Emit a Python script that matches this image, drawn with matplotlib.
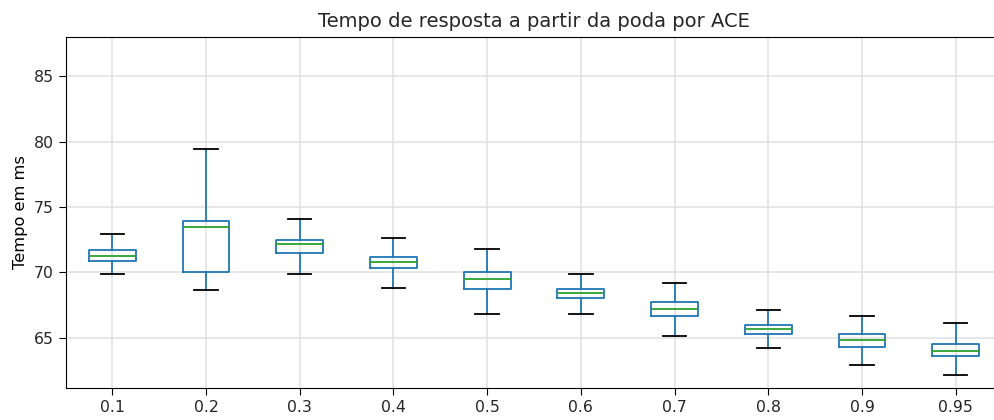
import numpy as np
import matplotlib
matplotlib.use('Agg')
import matplotlib.pyplot as plt

# Pruning thresholds (x categories)
labels = ['0.1', '0.2', '0.3', '0.4', '0.5', '0.6', '0.7', '0.8', '0.9', '0.95']

# Box statistics (ms)
whislo = [69.9, 68.66, 69.9, 68.8, 66.8, 66.8, 65.15, 64.2, 62.9, 62.1]
q1 = [70.85, 70.0, 71.45, 70.3, 68.75, 68.0, 66.65, 65.3, 64.3, 63.6]
med = [71.27, 73.5, 72.14, 70.75, 69.5, 68.4, 67.2, 65.65, 64.8, 64.0]
q3 = [71.7, 73.95, 72.5, 71.15, 70.0, 68.7, 67.7, 66.0, 65.3, 64.5]
whishi = [72.95, 79.44, 74.08, 72.6, 71.75, 69.9, 69.2, 67.1, 66.65, 66.1]

stats = []
for i in range(len(labels)):
    stats.append({'label': labels[i], 'whislo': whislo[i], 'q1': q1[i],
                  'med': med[i], 'q3': q3[i], 'whishi': whishi[i], 'fliers': []})

plt.rcParams['text.color'] = '#262626'
plt.rcParams['xtick.labelcolor'] = '#262626'
plt.rcParams['ytick.labelcolor'] = '#262626'

fig = plt.figure(figsize=(9.94, 4.2), dpi=100)
ax = fig.add_axes([65.5 / 994, 1 - 388 / 420, 937 / 994, (388 - 36.7) / 420])

lw = 1.3
ax.bxp(stats, positions=range(1, len(labels) + 1), widths=0.5,
       boxprops=dict(color='C0', linewidth=lw), whiskerprops=dict(color='C0', linewidth=lw),
       capprops=dict(color='k', linewidth=lw), medianprops=dict(color='C2', linewidth=lw),
       showfliers=False)

ax.grid(True, color='#e0e0e0', linewidth=1.1)
ax.set_axisbelow(True)
ax.spines['right'].set_visible(False)
ax.set_xlim(0.5, 10.5)
ax.set_ylim(61.14, 88.04)
ax.set_yticks([65, 70, 75, 80, 85])
ax.tick_params(labelsize=11.3, length=5)
ax.set_ylabel('Tempo em ms', fontsize=11.7)
ax.set_title('Tempo de resposta a partir da poda por ACE', fontsize=14, pad=7)

plt.savefig('out.png', dpi=100)
